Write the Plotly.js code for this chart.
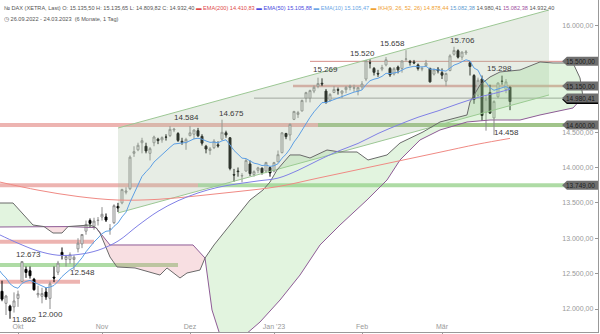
<!DOCTYPE html>
<html><head><meta charset="utf-8">
<script src="https://cdn.plot.ly/plotly-3.0.1.min.js"></script>
<style>html,body{margin:0;padding:0;background:#fff}#chart{width:600px;height:334px}</style>
</head><body><div id="chart"></div>
<script>
// ---- daily OHLC, 26.09.2022 - 24.03.2023 (index = trading day) ----
const openP = [12280,12250,12080,12040,12030,
12150,12390,12560,12540,12420,12200,12180,12240,12150,12450,12520,12800,12700,12700,12700,12850,12920,13100,13250,13170,13250,
13300,13300,13130,13220,13450,13500,13650,13700,14200,14250,14350,14300,14200,14350,14400,14390,14430,14450,14530,14480,14370,14350,
14450,14470,14520,14440,14300,14240,14280,14320,14400,14490,14420,13900,13950,13880,13950,14050,13900,13960,13990,13950,14000,
13950,14080,14210,14480,14460,14680,14750,14800,14980,14980,15080,15150,15190,15080,14950,15060,15100,15050,15100,15130,15120,15080,
15140,15250,15480,15400,15330,15390,15450,15400,15320,15420,15400,15530,15500,15490,15450,15390,15440,15400,15320,15390,
15340,15220,15370,15600,15650,15560,15620,15480,15300,15020,15250,14780,15060,14700,15000,15220,15100,15135.5];
const highP = [12330,12400,12200,12060,12235,
12260,12673,12600,12600,12440,12330,12300,12300,12390,12600,12680,12870,12760,12800,12760,13000,13060,13250,13280,13290,13300,
13440,13350,13200,13480,13500,13700,13720,14170,14300,14350,14420,14350,14290,14450,14420,14440,14470,14584,14560,14500,14420,14420,
14584,14540,14560,14470,14320,14290,14400,14370,14675,14520,14430,13980,14000,13920,14120,14100,13960,14010,14000,14080,14010,
14080,14240,14500,14490,14620,14800,14800,14960,15070,15100,15160,15269,15260,15110,15050,15150,15130,15090,15150,15170,15170,15140,
15220,15520,15530,15420,15380,15450,15560,15420,15420,15440,15510,15658,15520,15520,15470,15430,15520,15410,15400,15420,
15400,15340,15600,15706,15670,15640,15660,15500,15320,15270,15300,15020,15170,14950,15200,15298,15250,15135.65];
const lowP = [12180,12110,11915,11862,11950,
12030,12380,12440,12430,12260,12160,12080,12130,12000,12380,12480,12700,12600,12640,12548,12800,12860,13050,13150,13120,13180,
13250,13230,13050,13200,13370,13480,13620,13680,14150,14230,14200,14200,14100,14300,14330,14350,14380,14430,14500,14360,14320,14250,
14440,14400,14430,14310,14200,14180,14260,14280,14380,14420,13960,13800,13870,13790,13940,13880,13870,13920,13900,13920,13870,
13930,14080,14200,14400,14380,14670,14700,14790,14920,14920,15050,15120,15150,14900,14930,15050,15030,14980,15050,15090,15070,15020,
15100,15220,15400,15300,15280,15360,15430,15280,15300,15330,15340,15500,15440,15460,15370,15360,15430,15200,15300,15330,
15250,15150,15360,15580,15540,15520,15590,15300,14900,14990,14660,14520,14760,14458,14980,15170,15050,14809.82];
const closeP = [12227,12139,12183,11976,12114,
12209,12670,12517,12471,12273,12220,12219,12172,12355,12438,12649,12765,12741,12767,12731,12931,13053,13195,13211,13243,13254,
13339,13257,13131,13460,13428,13688,13667,14146,14224,14314,14379,14234,14266,14431,14380,14422,14428,14539,14541,14383,14355,14397,
14490,14529,14448,14344,14261,14264,14371,14306,14497,14460,13987,13893,13942,13885,14098,13914,13941,13995,13926,14071,13924,
14069,14181,14490,14436,14610,14792,14775,14947,15058,15087,15134,15187,15181,14920,15033,15103,15093,15081,15132,15150,15126,15128,
15180,15509,15476,15345,15321,15412,15523,15308,15397,15380,15506,15534,15482,15478,15398,15400,15475,15210,15381,15365,
15305,15328,15578,15654,15559,15631,15633,15428,14960,15233,14735,14967,14768,14933,15195,15217,15210,14932.4];

// ---- moving averages ----
const ema10 = [12574,12496,12440,12356,12312,12293,12362,12390,12405,12381,12352,12328,12300,12310,12333,12390,12458,12509,12556,12588,
12650,12723,12809,12881,12947,13003,13064,13099,13105,13169,13216,13301,13368,13509,13639,13762,13874,13939,13998,14077,
14132,14185,14229,14285,14332,14341,14344,14353,14378,14405,14413,14401,14375,14355,14358,14349,14376,14391,14318,14241,
14187,14132,14126,14088,14061,14049,14027,14035,14015,14025,14053,14132,14187,14264,14360,14435,14528,14624,14708,14786,
14859,14917,14918,14939,14969,14991,15007,15030,15052,15065,15077,15096,15171,15226,15248,15261,15288,15331,15327,15340,
15347,15376,15405,15419,15430,15424,15420,15430,15390,15388,15384,15370,15362,15401,15447,15467,15497,15522,15505,15406,
15375,15259,15206,15126,15091,15110,15129,15144,15105];
const ema50Idx = [0,5,10,15,20,25,30,35,40,45,50,55,60,65,70,75,80,85,90,95,100,105,110,115,120,125,128];
const ema50 = [13060,12930,12820,12760,12770,12830,12960,13180,13380,13530,13640,13720,13770,13810,13850,13960,14100,14230,14340,14480,14600,14710,14800,14900,14990,15060,15106];
const ema200Idx = [0,10,20,30,40,50,60,70,80,90,100,110,120,128];
const ema200 = [13800,13680,13590,13540,13550,13600,13660,13730,13850,13970,14090,14210,14330,14411];

// ---- Ichimoku cloud (span A / span B, estimated) ----
const spanAIdx = [0.5,3.75,8.75,11.5,13.75,16,17.5,23,24.5,25.5,28,29.75,34.25,40.5,42.25,45.5,47.25,50.5,51.75,54,58,63,66.25,68,69.75,73,75.5,78,82.25,85.5,89.75,92.5,97.25,100.5,106.25,110.5,117.25,118,120.5,123,125.5,128,130.5,135.5,138.75,143.75,145.5,146.25];
const spanA = [13498,13498,13187,13165,13074,13074,13165,13187,13150,13074,12735,12594,12580,12480,12580,12438,12509,12551,12720,12905,13187,13540,13682,13795,13965,14177,14177,14134,14247,14219,14219,14106,14177,14346,14502,14643,14742,14926,15166,15279,15350,15364,15378,15491,15477,15477,15265,14996];
const spanBIdx = [0.5,8.75,11.5,17.5,24.5,28,48.75,50.5,51.75,53.5,55.5,61.75,65.5,70.5,75.5,80.5,85.5,92.25,97.25,100.5,105.5,110.5,117.25,123,130.5,135.5,139.25,143.75,146.25];
const spanB = [13159,13165,13165,13165,13150,12905,12905,12792,12720,11986,11633,11633,11816,12127,12480,12905,13187,13541,13823,14106,14389,14530,14643,14671,14671,14742,14784,14841,14996];
const cloudBreaks = [0.5,11.5,17.5,24.5,51.75,146.25];
const cloudBull = [true,false,true,false,true];

// ---- trend channel ----
const chanIdx = [30,137.75];
const chanLow = [13357,15025];
const chanHigh = [14558,16226];

// ---- horizontal levels ----
const levelPrice = [15500,15150,14980,14600,14600,13749,13749,12950,12622,12386];
const levelFrom  = [78,73.75,64,0,80,0,50,0,0,0];
const levelTo    = [150,150,150,80,150,50,150,24,45,20.5];
const levelKind  = ['thinRed','midRed','gray','red','olive','red','green','red','green','red'];
const tagPrice = [15500,15150,14980.41,14600,13749];
const tagText = ['15.500,00','15.150,00','14.980,41','14.600,00','13.749,00'];

// ---- extreme labels ----
const extText  = ['12.673','12.000','11.862','12.548','14.584','14.675','15.269','15.520','15.658','15.706','15.298','14.458'];
const extIdx   = [7.5,13,6.5,21,47,58.25,81.75,91,98.5,116,125.25,127];
const extPrice = [12777,11929,11845,12509,14700,14756,15378,15604,15746,15788,15406,14488];

// ---- axes ----
const monthIdx = [5,26,48,69,91,111];
const monthLabels = ['Okt','Nov','Dez',"Jan '23",'Feb','Mär'];
const yTickVals = [12000,12500,13000,13500,14000,14500,15000,15500,16000];
const yTickText = ['12.000,00','12.500,00','13.000,00','13.500,00','14.000,00','14.500,00','','','16.000,00'];

const FONT = 'Liberation Sans, Arial, sans-serif';
const xs = closeP.map((_, i) => i);
const traces = [];

// channel
traces.push({x:[chanIdx[0],chanIdx[1],chanIdx[1],chanIdx[0],chanIdx[0]], y:[chanLow[0],chanLow[1],chanHigh[1],chanHigh[0],chanLow[0]],
  mode:'lines', fill:'toself', fillcolor:'rgba(170,190,160,0.28)', line:{width:0}, hoverinfo:'skip'});
traces.push({x:chanIdx, y:chanLow, mode:'lines', line:{color:'#9cc794', width:1}, hoverinfo:'skip'});
traces.push({x:chanIdx, y:chanHigh, mode:'lines', line:{color:'#9cc794', width:1}, hoverinfo:'skip'});

// cloud fills
for (let r = 0; r < cloudBull.length; r++) {
  const s = cloudBreaks[r], e = cloudBreaks[r+1];
  const px = [], py = [];
  spanAIdx.forEach((v,i)=>{ if (v>=s && v<=e) { px.push(v); py.push(spanA[i]); } });
  const bx = [], by = [];
  spanBIdx.forEach((v,i)=>{ if (v>=s && v<=e) { bx.push(v); by.push(spanB[i]); } });
  traces.push({x:px.concat(bx.reverse()), y:py.concat(by.reverse()), mode:'lines', fill:'toself',
    fillcolor: cloudBull[r] ? 'rgba(150,215,140,0.28)' : 'rgba(230,140,150,0.28)', line:{width:0}, hoverinfo:'skip'});
}
traces.push({x:spanBIdx, y:spanB, mode:'lines', line:{color:'#8e5c96', width:1}, hoverinfo:'skip'});
traces.push({x:spanAIdx, y:spanA, mode:'lines', line:{color:'#6a6a6a', width:1}, hoverinfo:'skip'});

// EMAs
traces.push({x:ema200Idx, y:ema200, mode:'lines', line:{color:'#f08a84', width:1, shape:'spline'}, hoverinfo:'skip'});
traces.push({x:ema50Idx, y:ema50, mode:'lines', line:{color:'#8080e6', width:1, shape:'spline'}, hoverinfo:'skip'});
traces.push({x:xs, y:ema10, mode:'lines', line:{color:'#5d9fe4', width:1}, hoverinfo:'skip'});

// candles
traces.push({type:'candlestick', x:xs, open:openP, high:highP, low:lowP, close:closeP, whiskerwidth:0,
  increasing:{line:{color:'#8c8c8c', width:1}, fillcolor:'#ffffff'},
  decreasing:{line:{color:'#000000', width:1}, fillcolor:'#000000'}, hoverinfo:'skip'});

// level shapes
const shapes = [];
const kindStyle = {
  thinRed:{color:'rgba(205,120,115,0.85)', width:1},
  midRed:{color:'rgba(215,140,135,0.75)', width:2.5},
  gray:{color:'rgba(150,150,150,0.9)', width:1},
  red:{color:'rgba(225,130,125,0.6)', width:4},
  green:{color:'rgba(120,195,105,0.6)', width:4},
  olive:{color:'rgba(110,165,75,0.65)', width:4}
};
levelPrice.forEach((p,i)=>{
  shapes.push({type:'line', xref:'x', yref:'y', x0:levelFrom[i], x1:levelTo[i], y0:p, y1:p, line:kindStyle[levelKind[i]], layer:'below'});
});

// price tags
const pxPerPt = 332/(16367-11675);
const annotations = [];
tagPrice.forEach((p,i)=>{
  const hh = 4.5/pxPerPt;
  if (i === 2) {
    const d = 1.5/pxPerPt;
    shapes.push({type:'path', xref:'paper', yref:'y',
      path:`M 0.940 ${p-d} L 0.948 ${p+hh-d} L 1 ${p+hh-d} L 1 ${p-hh-d} L 0.948 ${p-hh-d} Z`,
      fillcolor:'#000000', line:{width:0}, layer:'above'});
  }
  shapes.push({type:'path', xref:'paper', yref:'y',
    path:`M 0.940 ${p} L 0.948 ${p+hh} L 1 ${p+hh} L 1 ${p-hh} L 0.948 ${p-hh} Z`,
    fillcolor:'#6f6f6f', line:{width:0}, layer:'above'});
  annotations.push({xref:'paper', yref:'y', x:0.999, y:p, xanchor:'right', yanchor:'middle', text:tagText[i],
    showarrow:false, font:{family:FONT, size:6.5, color:'#1c1c1c'}});
});

// extreme labels
extText.forEach((t,i)=>{
  annotations.push({x:extIdx[i], y:extPrice[i], text:t, showarrow:false, xanchor:'center', yanchor:'middle',
    font:{family:FONT, size:8, color:'#3a3a3a'}});
});

// header
const hdr = '<span style="color:#555">№ DAX (XETRA, Last) O: 15.135,50 H: 15.135,65 L: 14.809,82 C: 14.932,40</span>' +
  ' <span style="color:#e04a4a">▬ EMA(200) 14.410,83</span>' +
  ' <span style="color:#4a4ae0">▬ EMA(50) 15.105,88</span>' +
  ' <span style="color:#6aa6e6">▬ EMA(10) 15.105,47</span>' +
  ' <span style="color:#f0a030">▬ IKH(9, 26, 52, 26) 14.878,44</span>' +
  ' <span style="color:#5a9ad0">15.082,38</span> <span style="color:#555">14.980,41</span>' +
  ' <span style="color:#a050a0">15.082,38</span> <span style="color:#555">14.932,40</span>';
annotations.push({xref:'paper', yref:'paper', x:0, y:1, xshift:2, yshift:-3, xanchor:'left', yanchor:'top', text:hdr,
  showarrow:false, font:{family:FONT, size:5.6, color:'#555'}});
annotations.push({xref:'paper', yref:'paper', x:0, y:1, xshift:2, yshift:-14, xanchor:'left', yanchor:'top',
  text:'◷ 26.09.2022 - 24.03.2023  (6 Monate, 1 Tag)', showarrow:false, font:{family:FONT, size:5.6, color:'#555'}});

const layout = {
  width:600, height:334, margin:{l:0, r:2, t:0, b:2},
  paper_bgcolor:'#ffffff', plot_bgcolor:'#ffffff', showlegend:false,
  font:{family:FONT, size:7, color:'#999'},
  xaxis:{range:[0.5,150], showgrid:false, zeroline:false, showline:true, linecolor:'#999', linewidth:1,
    tickvals:monthIdx, ticktext:monthLabels, ticks:'outside', ticklen:2, tickcolor:'#999',
    ticklabelposition:'inside', tickfont:{family:FONT, size:7, color:'#999'}, rangeslider:{visible:false}, fixedrange:true},
  yaxis:{range:[11675,16367], side:'right', showgrid:false, zeroline:false, showline:true, linecolor:'#999', linewidth:1,
    tickvals:yTickVals, ticktext:yTickText, ticks:'inside', ticklen:3, tickcolor:'#999',
    ticklabelposition:'inside', tickfont:{family:FONT, size:7, color:'#999'}, fixedrange:true},
  shapes:shapes, annotations:annotations
};
Plotly.newPlot('chart', traces, layout, {staticPlot:true, displayModeBar:false});
</script></body></html>
